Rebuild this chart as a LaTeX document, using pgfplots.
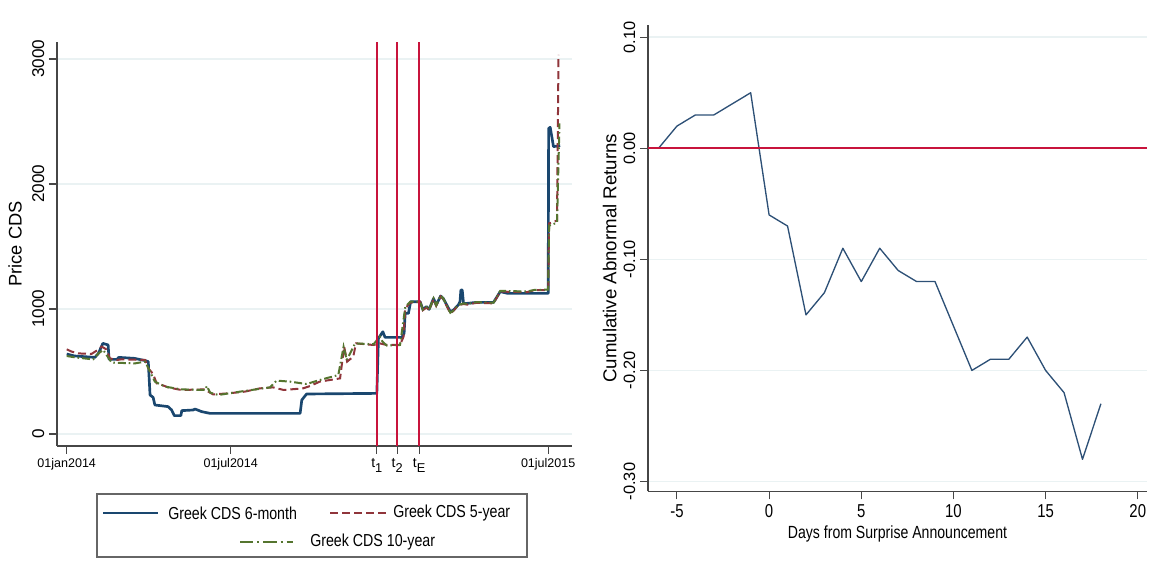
\documentclass[border=0pt]{standalone}
\usepackage{fontspec}
\setmainfont{Liberation Sans}[FakeStretch=0.82]
\newfontfamily\rotfont{Liberation Sans}
\newfontfamily\condfont{Liberation Sans}[FakeStretch=0.8]
\usepackage{pgfplots}
\pgfplotsset{compat=1.18}
\definecolor{stnavy}{RGB}{26,71,111}
\definecolor{stmaroon}{RGB}{144,53,59}
\definecolor{stgreen}{RGB}{85,117,47}
\definecolor{crim}{RGB}{200,20,60}
\definecolor{gridc}{RGB}{234,242,243}
\definecolor{axisgray}{RGB}{70,70,70}
\definecolor{rnavy}{RGB}{45,80,118}
\newcommand{\tsub}[1]{{\fontsize{10.5}{12}\selectfont t}\raisebox{-3.8pt}{\fontsize{9.6}{11}\selectfont #1}}
\begin{document}
\begin{tikzpicture}[x=0.75pt,y=0.75pt]
\useasboundingbox (0,0) rectangle (1157,567);
% ---------------- left panel ----------------
\begin{axis}[
  at={(42.75pt,90.75pt)}, anchor=south west,
  scale only axis, width=386.25pt, height=303pt,
  xmin=-11, xmax=573, ymin=-96, ymax=3136,
  axis x line*=bottom, axis y line*=left,
  axis line style={draw=axisgray, line width=0.8pt},
  tick align=outside, major tick length=6pt,
  every tick/.style={draw=axisgray, line width=0.8pt},
  xtick={0,186,351.7,374.7,399.7,546},
  xticklabels={01jan2014,01jul2014,\tsub{1},\tsub{2},\tsub{E},01jul2015},
  xticklabel style={font=\rotfont\fontsize{9.4}{11}\selectfont, anchor=north},
  ytick={0,1000,2000,3000}, yticklabels={0,1000,2000,3000},
  yticklabel style={font=\rotfont\fontsize{12.8}{14}\selectfont, rotate=90, anchor=south},
  ymajorgrids, grid style={draw=gridc, line width=1.2pt},
  ylabel={Price CDS},
  ylabel style={font=\rotfont\fontsize{13.7}{15}\selectfont, at={(axis description cs:-0.0816,0.5)}, anchor=center},
  clip=false,
]
\addplot[stnavy, line width=2pt, line join=round] coordinates {
(0,640) (9,624) (32,613) (36,645) (41,725) (47,712) (48,597) (57,597) (59,613) (77,605) (89,587) (92.5,579) (94.5,312) (98,293) (100,232) (115,219) (119,192) (122,147) (129.5,147) (130.5,187) (143.5,192) (145.5,200) (153,179) (162.5,165) (264.7,165) (266.6,272) (272,320) (351.7,325) (353.5,765) (358.5,818) (361,773) (380,773) (382.6,805) (383.8,965) (387.5,965) (390,1058) (400.8,1058) (403.8,997) (408,1019) (411,997) (416,1085) (419,1032) (424,1104) (427,1085) (435,979) (438.6,992) (444,1032) (446,1060) (447,1152) (448.5,1152) (450,1045) (454,1045) (465,1053) (484,1053) (491.6,1139) (500,1125) (546,1125) (546.5,2445) (548.3,2453) (552,2299) (559.6,2307)
};
\addplot[stmaroon, line width=1.5pt, dash pattern=on 6pt off 3pt] coordinates {
(0,677) (5.7,659) (13,645) (28,640) (34,667) (39.7,699) (45,677) (49,605) (56.7,592) (62,597) (89,592) (92.6,525) (98,480) (102,405) (108,392) (115,373) (130,352) (157,357) (160.6,339) (166,317) (183,325) (202,339) (219,365) (234,373) (246,352) (268,365) (276,384) (287,419) (310,445) (314.6,699) (318,579) (325,619) (328,725) (348,712) (355,725) (363,712) (378,712) (382,779) (384,1005) (389.5,1050) (400.8,1058) (403.8,990) (408,1012) (411,990) (416,1080) (419,1025) (424,1100) (427,1080) (435,965) (438.6,985) (444,1030) (450,1040) (454,1035) (465,1050) (484,1045) (491.6,1139) (522,1135) (530,1150) (546,1150) (547,1685) (556,1707) (557.7,3032)
};
\addplot[stgreen, line width=1.5pt, dash pattern=on 6pt off 2.2pt on 1.2pt off 2.2pt] coordinates {
(0,624) (9.4,613) (30,597) (36,645) (41.5,672) (47,613) (51,571) (77.5,565) (89,579) (94.5,499) (100,419) (111.5,379) (130,357) (157,352) (159,384) (162.6,331) (172,312) (196.7,339) (230.6,373) (238,427) (253,419) (272,400) (287,432) (308,472) (314,699) (317.6,592) (327,725) (348,718) (355,779) (358,740) (363,707) (378,712) (384,1019) (389.5,1058) (400.8,1058) (403.8,995) (408,1015) (411,995) (416,1085) (419,1030) (424,1108) (427,1085) (435,970) (438.6,988) (444,1032) (450,1045) (454,1040) (465,1055) (484,1050) (491.6,1145) (522,1140) (530,1152) (546,1155) (547,1667) (556,1690) (558.8,2485)
};
\addplot[crim, line width=1.2pt] coordinates {(351.7,-96) (351.7,3136)};
\addplot[crim, line width=1.2pt] coordinates {(374.7,-96) (374.7,3136)};
\addplot[crim, line width=1.2pt] coordinates {(399.2,-96) (399.2,3136)};
\end{axis}
% ---------------- right panel ----------------
\begin{axis}[
  at={(486pt,56.625pt)}, anchor=south west,
  scale only axis, width=374.25pt, height=349.875pt,
  xmin=-6.57, xmax=20.5, ymin=-0.309, ymax=0.111,
  axis x line*=bottom, axis y line*=left,
  axis line style={draw=axisgray, line width=0.8pt},
  tick align=outside, major tick length=6pt,
  every tick/.style={draw=axisgray, line width=0.8pt},
  xtick={-5,0,5,10,15,20}, xticklabels={-5,0,5,10,15,20},
  xticklabel style={font=\condfont\fontsize{14}{16}\selectfont, anchor=north},
  ytick={-0.3,-0.2,-0.1,0,0.1}, yticklabels={-0.30,-0.20,-0.10,0.00,0.10},
  yticklabel style={font=\rotfont\fontsize{12.3}{14}\selectfont, rotate=90, anchor=south},
  ymajorgrids, grid style={draw=gridc, line width=1.2pt},
  xlabel={Days from Surprise Announcement},
  xlabel style={font=\condfont\fontsize{13.2}{15}\selectfont, at={(axis description cs:0.5,-0.091)}, anchor=center},
  ylabel={Cumulative Abnormal Returns},
  ylabel style={font=\rotfont\fontsize{14}{16}\selectfont, at={(axis description cs:-0.077,0.5)}, anchor=center},
  clip=false,
]
\addplot[rnavy, line width=1pt, line join=round] coordinates {
(-6,0) (-5,0.02) (-4,0.03) (-3,0.03) (-2,0.04) (-1,0.05) (0,-0.06) (1,-0.07) (2,-0.15) (3,-0.13) (4,-0.09) (5,-0.12) (6,-0.09) (7,-0.11) (8,-0.12) (9,-0.12) (10,-0.16) (11,-0.20) (12,-0.19) (13,-0.19) (14,-0.17) (15,-0.20) (16,-0.22) (17,-0.28) (18,-0.23)
};
\addplot[crim, line width=1.2pt] coordinates {(-6.57,0) (20.5,0)};
\end{axis}
% ---------------- legend ----------------
\draw[draw=gray!80!black, line width=0.8pt] (97,73) rectangle (527,10);
\draw[stnavy, line width=2pt] (103,54) -- (158,54);
\node[anchor=west, inner sep=0pt, font=\fontsize{13}{15}\selectfont] at (168,54) {Greek CDS 6-month};
\draw[stmaroon, line width=1.5pt, dash pattern=on 6pt off 3pt] (330,54) -- (386,54);
\node[anchor=west, inner sep=0pt, font=\fontsize{13}{15}\selectfont] at (393,54) {Greek CDS 5-year};
\draw[stgreen, line width=1.5pt, dash pattern=on 10pt off 3pt on 1.5pt off 3pt] (240,25) -- (293,25);
\node[anchor=west, inner sep=0pt, font=\fontsize{13}{15}\selectfont] at (310,25) {Greek CDS 10-year};
\end{tikzpicture}
\end{document}
